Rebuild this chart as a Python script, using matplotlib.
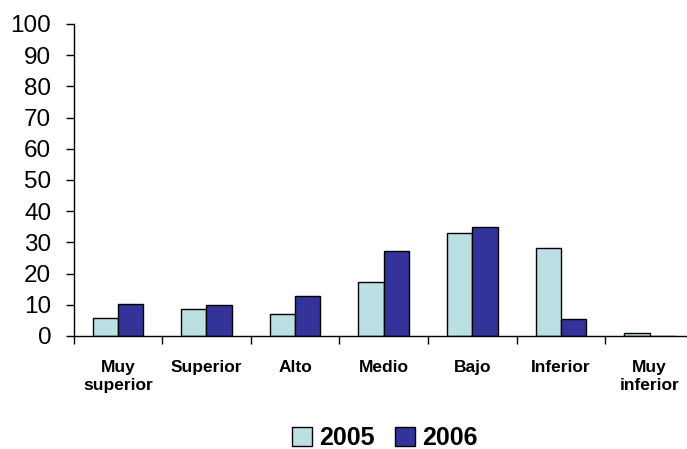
import matplotlib.pyplot as plt
import numpy as np

plt.rcParams['font.family'] = ['Liberation Sans', 'DejaVu Sans']

categorias = ["Muy\nsuperior", "Superior", "Alto", "Medio", "Bajo", "Inferior", "Muy\ninferior"]
v2005 = [5.7, 8.5, 7.1, 17.4, 33.0, 28.1, 0.9]
v2006 = [10.4, 9.8, 12.7, 27.3, 35.0, 5.6, 0.0]
y_ticks = [0, 10, 20, 30, 40, 50, 60, 70, 80, 90, 100]

fig = plt.figure(figsize=(6.87, 4.49), dpi=100)
ax = fig.add_axes([0.107, 0.2517, 0.903, 0.695])

x = np.arange(len(categorias))
w = 0.285
ax.bar(x - w/2, v2005, w, color="#BBE0E3", edgecolor="black", linewidth=1, label="2005")
ax.bar(x + w/2, v2006, w, color="#333399", edgecolor="black", linewidth=1, label="2006")

ax.set_xlim(-0.5, len(categorias) - 0.5)
ax.set_ylim(0, 100)
ax.set_yticks(y_ticks)
ax.tick_params(axis='y', labelsize=17.5, length=6, width=1, pad=10)

# category boundaries as ticks, labels centred in between
ax.set_xticks(np.arange(len(categorias) + 1) - 0.5)
ax.set_xticklabels([])
ax.tick_params(axis='x', length=6, width=1)
ax.set_xticks(x, minor=True)
ax.set_xticklabels(categorias, minor=True, fontsize=12.5, fontweight='bold', linespacing=1.3)
ax.tick_params(axis='x', which='minor', length=0, pad=17)

for s in ["top", "right"]:
    ax.spines[s].set_visible(False)
ax.spines["left"].set_linewidth(1)
ax.spines["bottom"].set_linewidth(1)

fig.legend(loc="center", bbox_to_anchor=(0.56, 0.025), ncol=2, frameon=False,
           prop={'size': 18, 'weight': 'bold'}, handlelength=0.8, handleheight=0.8,
           handletextpad=0.3, columnspacing=0.8)

plt.savefig("out.png", dpi=100)
